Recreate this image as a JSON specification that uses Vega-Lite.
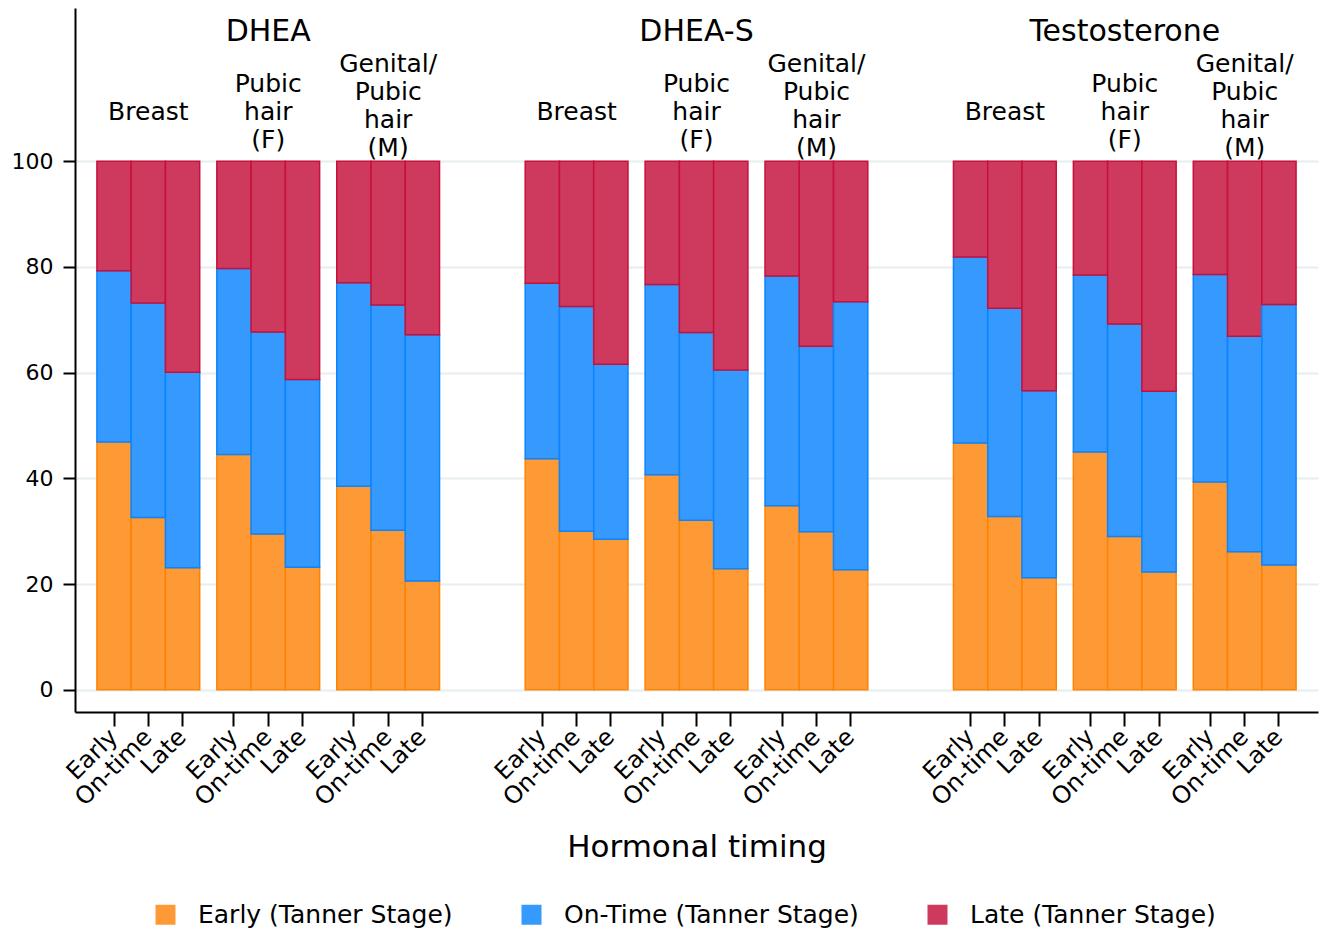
{
  "$schema": "https://vega.github.io/schema/vega-lite/v6.json",
  "width": 1243,
  "height": 704,
  "padding": {"top": 8, "left": 5, "right": 5, "bottom": 5},
  "config": {
    "font": "DejaVu Sans",
    "view": {"stroke": null},
    "text": {"font": "DejaVu Sans", "color": "#000000"}
  },
  "datasets": {
    "bars": [
      {"bar": "DHEA|Breast|Early", "Early (Tanner Stage)": 46.9, "On-Time (Tanner Stage)": 32.4, "Late (Tanner Stage)": 20.7},
      {"bar": "DHEA|Breast|On-time", "Early (Tanner Stage)": 32.6, "On-Time (Tanner Stage)": 40.6, "Late (Tanner Stage)": 26.8},
      {"bar": "DHEA|Breast|Late", "Early (Tanner Stage)": 23.1, "On-Time (Tanner Stage)": 37.0, "Late (Tanner Stage)": 39.9},
      {"bar": "DHEA|Pubic|Early", "Early (Tanner Stage)": 44.5, "On-Time (Tanner Stage)": 35.2, "Late (Tanner Stage)": 20.3},
      {"bar": "DHEA|Pubic|On-time", "Early (Tanner Stage)": 29.5, "On-Time (Tanner Stage)": 38.2, "Late (Tanner Stage)": 32.3},
      {"bar": "DHEA|Pubic|Late", "Early (Tanner Stage)": 23.2, "On-Time (Tanner Stage)": 35.5, "Late (Tanner Stage)": 41.3},
      {"bar": "DHEA|Genital|Early", "Early (Tanner Stage)": 38.5, "On-Time (Tanner Stage)": 38.5, "Late (Tanner Stage)": 23.0},
      {"bar": "DHEA|Genital|On-time", "Early (Tanner Stage)": 30.2, "On-Time (Tanner Stage)": 42.6, "Late (Tanner Stage)": 27.2},
      {"bar": "DHEA|Genital|Late", "Early (Tanner Stage)": 20.6, "On-Time (Tanner Stage)": 46.6, "Late (Tanner Stage)": 32.8},
      {"bar": "DHEA-S|Breast|Early", "Early (Tanner Stage)": 43.7, "On-Time (Tanner Stage)": 33.2, "Late (Tanner Stage)": 23.1},
      {"bar": "DHEA-S|Breast|On-time", "Early (Tanner Stage)": 30.0, "On-Time (Tanner Stage)": 42.5, "Late (Tanner Stage)": 27.5},
      {"bar": "DHEA-S|Breast|Late", "Early (Tanner Stage)": 28.5, "On-Time (Tanner Stage)": 33.1, "Late (Tanner Stage)": 38.4},
      {"bar": "DHEA-S|Pubic|Early", "Early (Tanner Stage)": 40.7, "On-Time (Tanner Stage)": 36.0, "Late (Tanner Stage)": 23.3},
      {"bar": "DHEA-S|Pubic|On-time", "Early (Tanner Stage)": 32.1, "On-Time (Tanner Stage)": 35.5, "Late (Tanner Stage)": 32.4},
      {"bar": "DHEA-S|Pubic|Late", "Early (Tanner Stage)": 22.9, "On-Time (Tanner Stage)": 37.6, "Late (Tanner Stage)": 39.5},
      {"bar": "DHEA-S|Genital|Early", "Early (Tanner Stage)": 34.8, "On-Time (Tanner Stage)": 43.5, "Late (Tanner Stage)": 21.7},
      {"bar": "DHEA-S|Genital|On-time", "Early (Tanner Stage)": 29.9, "On-Time (Tanner Stage)": 35.1, "Late (Tanner Stage)": 35.0},
      {"bar": "DHEA-S|Genital|Late", "Early (Tanner Stage)": 22.7, "On-Time (Tanner Stage)": 50.7, "Late (Tanner Stage)": 26.6},
      {"bar": "Testosterone|Breast|Early", "Early (Tanner Stage)": 46.7, "On-Time (Tanner Stage)": 35.2, "Late (Tanner Stage)": 18.1},
      {"bar": "Testosterone|Breast|On-time", "Early (Tanner Stage)": 32.8, "On-Time (Tanner Stage)": 39.4, "Late (Tanner Stage)": 27.8},
      {"bar": "Testosterone|Breast|Late", "Early (Tanner Stage)": 21.2, "On-Time (Tanner Stage)": 35.4, "Late (Tanner Stage)": 43.4},
      {"bar": "Testosterone|Pubic|Early", "Early (Tanner Stage)": 45.0, "On-Time (Tanner Stage)": 33.5, "Late (Tanner Stage)": 21.5},
      {"bar": "Testosterone|Pubic|On-time", "Early (Tanner Stage)": 29.0, "On-Time (Tanner Stage)": 40.2, "Late (Tanner Stage)": 30.8},
      {"bar": "Testosterone|Pubic|Late", "Early (Tanner Stage)": 22.3, "On-Time (Tanner Stage)": 34.2, "Late (Tanner Stage)": 43.5},
      {"bar": "Testosterone|Genital|Early", "Early (Tanner Stage)": 39.3, "On-Time (Tanner Stage)": 39.3, "Late (Tanner Stage)": 21.4},
      {"bar": "Testosterone|Genital|On-time", "Early (Tanner Stage)": 26.1, "On-Time (Tanner Stage)": 40.8, "Late (Tanner Stage)": 33.1},
      {"bar": "Testosterone|Genital|Late", "Early (Tanner Stage)": 23.6, "On-Time (Tanner Stage)": 49.3, "Late (Tanner Stage)": 27.1}
    ],
    "stages": [
      {"stage": "Early (Tanner Stage)", "rank": 1},
      {"stage": "On-Time (Tanner Stage)", "rank": 2},
      {"stage": "Late (Tanner Stage)", "rank": 3}
    ]
  },
  "encoding": {
    "x": {
      "field": "bar",
      "type": "nominal",
      "title": "Hormonal timing",
      "scale": {
        "type": "band",
        "paddingInner": 0,
        "paddingOuter": 0.78,
        "domain": [
          "e1",
          "DHEA|Breast|Early", "s01", "DHEA|Breast|On-time", "s02", "DHEA|Breast|Late", "s03", "s04",
          "DHEA|Pubic|Early", "s05", "DHEA|Pubic|On-time", "s06", "DHEA|Pubic|Late", "s07", "s08",
          "DHEA|Genital|Early", "s09", "DHEA|Genital|On-time", "s10", "DHEA|Genital|Late",
          "s11", "s12", "s13", "s14", "s15", "s16",
          "DHEA-S|Breast|Early", "s17", "DHEA-S|Breast|On-time", "s18", "DHEA-S|Breast|Late", "s19", "s20",
          "DHEA-S|Pubic|Early", "s21", "DHEA-S|Pubic|On-time", "s22", "DHEA-S|Pubic|Late", "s23", "s24",
          "DHEA-S|Genital|Early", "s25", "DHEA-S|Genital|On-time", "s26", "DHEA-S|Genital|Late",
          "s27", "s28", "s29", "s30", "s31", "s32",
          "Testosterone|Breast|Early", "s33", "Testosterone|Breast|On-time", "s34", "Testosterone|Breast|Late", "s35", "s36",
          "Testosterone|Pubic|Early", "s37", "Testosterone|Pubic|On-time", "s38", "Testosterone|Pubic|Late", "s39", "s40",
          "Testosterone|Genital|Early", "s41", "Testosterone|Genital|On-time", "s42", "Testosterone|Genital|Late",
          "e2"
        ]
      },
      "axis": {
        "values": [
          "DHEA|Breast|Early", "DHEA|Breast|On-time", "DHEA|Breast|Late",
          "DHEA|Pubic|Early", "DHEA|Pubic|On-time", "DHEA|Pubic|Late",
          "DHEA|Genital|Early", "DHEA|Genital|On-time", "DHEA|Genital|Late",
          "DHEA-S|Breast|Early", "DHEA-S|Breast|On-time", "DHEA-S|Breast|Late",
          "DHEA-S|Pubic|Early", "DHEA-S|Pubic|On-time", "DHEA-S|Pubic|Late",
          "DHEA-S|Genital|Early", "DHEA-S|Genital|On-time", "DHEA-S|Genital|Late",
          "Testosterone|Breast|Early", "Testosterone|Breast|On-time", "Testosterone|Breast|Late",
          "Testosterone|Pubic|Early", "Testosterone|Pubic|On-time", "Testosterone|Pubic|Late",
          "Testosterone|Genital|Early", "Testosterone|Genital|On-time", "Testosterone|Genital|Late"
        ],
        "labelExpr": "split(datum.value, '|')[2]",
        "labelAngle": -45,
        "labelAlign": "right",
        "labelBaseline": "middle",
        "labelFontSize": 24,
        "labelColor": "#000000",
        "labelPadding": 7,
        "labelOverlap": false,
        "labelBound": false,
        "labelFlush": false,
        "domainColor": "#000000",
        "domainWidth": 2,
        "tickColor": "#000000",
        "tickWidth": 2,
        "tickSize": 14,
        "grid": false,
        "titleFontSize": 31,
        "titleFontWeight": "normal",
        "titleColor": "#000000",
        "titlePadding": 22
      }
    }
  },
  "layer": [
    {
      "data": {"name": "bars"},
      "transform": [
        {"fold": ["Early (Tanner Stage)", "On-Time (Tanner Stage)", "Late (Tanner Stage)"], "as": ["stage", "pct"]},
        {"lookup": "stage", "from": {"data": {"name": "stages"}, "key": "stage", "fields": ["rank"]}}
      ],
      "mark": {"type": "bar", "width": {"band": 2}, "strokeWidth": 1.5},
      "encoding": {
        "y": {
          "field": "pct",
          "type": "quantitative",
          "stack": "zero",
          "scale": {"domain": [-4.2, 129], "nice": false, "zero": false},
          "axis": {
            "values": [0, 20, 40, 60, 80, 100],
            "title": null,
            "grid": true,
            "gridColor": "#E6EEF0",
            "gridWidth": 2,
            "domainColor": "#000000",
            "domainWidth": 2,
            "tickColor": "#000000",
            "tickWidth": 2,
            "tickSize": 12,
            "labelFontSize": 22,
            "labelColor": "#000000",
            "labelPadding": 10,
            "minExtent": 70
          }
        },
        "order": {"field": "rank", "type": "quantitative", "sort": "ascending"},
        "color": {
          "field": "stage",
          "type": "nominal",
          "scale": {
            "domain": ["Early (Tanner Stage)", "On-Time (Tanner Stage)", "Late (Tanner Stage)"],
            "range": ["#FD9A36", "#3699FD", "#CD3A5D"]
          },
          "legend": {
            "orient": "none",
            "legendX": 78,
            "legendY": 894,
            "direction": "horizontal",
            "title": null,
            "symbolType": "square",
            "symbolSize": 400,
            "symbolStrokeWidth": 0,
            "labelFontSize": 25,
            "labelColor": "#000000",
            "labelLimit": 400,
            "labelOffset": 20,
            "columnPadding": 66
          }
        },
        "stroke": {
          "field": "stage",
          "type": "nominal",
          "scale": {
            "domain": ["Early (Tanner Stage)", "On-Time (Tanner Stage)", "Late (Tanner Stage)"],
            "range": ["#FF8200", "#0A84FF", "#C8103A"]
          },
          "legend": null
        }
      }
    },
    {
      "data": {"values": [
        {"bar": "DHEA|Pubic|On-time", "label": "DHEA"},
        {"bar": "DHEA-S|Pubic|On-time", "label": "DHEA-S"},
        {"bar": "Testosterone|Pubic|On-time", "label": "Testosterone"}
      ]},
      "mark": {"type": "text", "fontSize": 30, "align": "center", "baseline": "middle"},
      "encoding": {
        "y": {"datum": 124.4, "type": "quantitative"},
        "text": {"field": "label"}
      }
    },
    {
      "data": {"values": [
        {"bar": "DHEA|Breast|On-time", "label": "Breast"},
        {"bar": "DHEA-S|Breast|On-time", "label": "Breast"},
        {"bar": "Testosterone|Breast|On-time", "label": "Breast"}
      ]},
      "mark": {"type": "text", "fontSize": 25, "align": "center", "baseline": "middle"},
      "encoding": {
        "y": {"datum": 109.3, "type": "quantitative"},
        "text": {"field": "label"}
      }
    },
    {
      "data": {"values": [
        {"bar": "DHEA|Pubic|On-time", "label": "Pubic\nhair\n(F)"},
        {"bar": "DHEA-S|Pubic|On-time", "label": "Pubic\nhair\n(F)"},
        {"bar": "Testosterone|Pubic|On-time", "label": "Pubic\nhair\n(F)"}
      ]},
      "mark": {"type": "text", "fontSize": 25, "align": "center", "baseline": "middle", "lineBreak": "\n", "lineHeight": 28},
      "encoding": {
        "y": {"datum": 114.6, "type": "quantitative"},
        "text": {"field": "label"}
      }
    },
    {
      "data": {"values": [
        {"bar": "DHEA|Genital|On-time", "label": "Genital/\nPubic\nhair\n(M)"},
        {"bar": "DHEA-S|Genital|On-time", "label": "Genital/\nPubic\nhair\n(M)"},
        {"bar": "Testosterone|Genital|On-time", "label": "Genital/\nPubic\nhair\n(M)"}
      ]},
      "mark": {"type": "text", "fontSize": 25, "align": "center", "baseline": "middle", "lineBreak": "\n", "lineHeight": 28},
      "encoding": {
        "y": {"datum": 118.4, "type": "quantitative"},
        "text": {"field": "label"}
      }
    }
  ]
}
